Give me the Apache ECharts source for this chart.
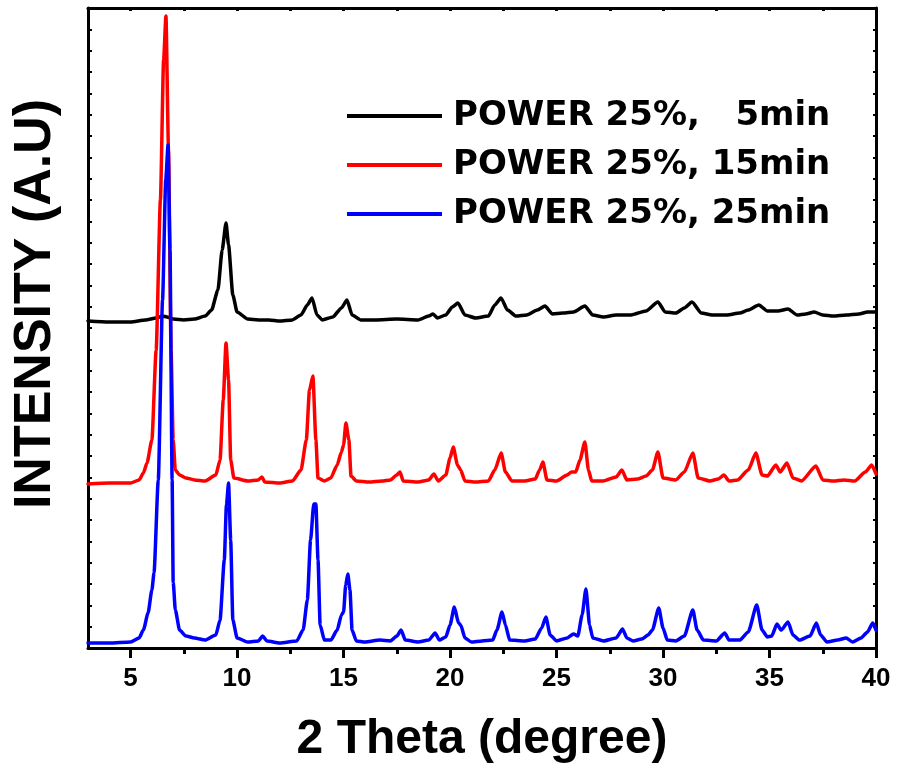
<!DOCTYPE html>
<html>
<head>
<meta charset="utf-8">
<script src="https://cdn.jsdelivr.net/npm/echarts@6/dist/echarts.min.js"></script>
<style>
html,body{margin:0;padding:0;background:#fff;}
#chart{width:897px;height:771px;}
</style>
</head>
<body>
<div id="chart"></div>
<script>
var seriesNames = ['POWER 25%,   5min', 'POWER 25%, 15min', 'POWER 25%, 25min'];
var seriesColors = ['#000000', '#ff0000', '#0000ff'];
var xTickValues = [5, 10, 15, 20, 25, 30, 35, 40];
var xMinorTickValues = [7.5, 12.5, 17.5, 22.5, 27.5, 32.5, 37.5];
var xTopTickValues = [5, 7.5, 10, 12.5, 15, 17.5, 20, 22.5, 25, 27.5, 30, 32.5, 35, 37.5, 40];

var data5min = [[3.0,1533],[4.0,1528],[5.0,1528],[5.7,1538],[6.2,1547],[6.5,1556],[6.7,1552],[7.0,1542],[7.5,1538],[8.0,1542],[8.5,1556],[8.8,1584],[9.1,1678],[9.3,1866],[9.48,1992],[9.6,1889],[9.8,1655],[10.0,1575],[10.5,1542],[11.0,1538],[11.5,1538],[12.0,1533],[12.6,1538],[13.0,1561],[13.3,1608],[13.52,1641],[13.75,1561],[14.0,1538],[14.5,1552],[14.9,1594],[15.16,1631],[15.4,1561],[15.8,1538],[16.5,1538],[17.5,1542],[18.5,1538],[19.0,1556],[19.2,1566],[19.4,1547],[19.8,1561],[20.1,1598],[20.37,1617],[20.7,1561],[21.2,1547],[21.8,1556],[22.1,1608],[22.39,1641],[22.7,1584],[23.1,1556],[23.6,1561],[24.1,1584],[24.46,1603],[24.8,1566],[25.3,1570],[25.8,1575],[26.33,1603],[26.7,1561],[27.2,1552],[27.8,1561],[28.5,1561],[29.2,1580],[29.76,1622],[30.1,1575],[30.6,1570],[31.0,1594],[31.36,1622],[31.8,1570],[32.3,1561],[33.0,1561],[33.6,1570],[34.0,1584],[34.5,1608],[34.9,1580],[35.4,1580],[35.87,1589],[36.3,1561],[36.7,1566],[37.1,1575],[37.5,1561],[38.0,1556],[38.6,1561],[39.2,1566],[39.6,1575],[40.0,1575]];

var data15min = [[3.0,769],[4.0,773],[5.0,773],[5.4,788],[5.6,820],[5.77,867],[6.0,975],[6.2,1397],[6.4,2100],[6.55,2756],[6.66,2963],[6.78,2334],[6.9,1397],[7.0,975],[7.1,834],[7.3,811],[7.6,797],[8.0,788],[8.5,783],[9.0,811],[9.2,881],[9.35,1162],[9.48,1430],[9.6,1256],[9.7,881],[9.85,797],[10.5,783],[11.0,788],[11.17,802],[11.3,778],[12.0,773],[12.6,783],[13.0,834],[13.25,975],[13.4,1209],[13.56,1275],[13.7,975],[13.8,797],[14.1,783],[14.4,797],[14.7,858],[14.9,919],[15.0,952],[15.11,1055],[15.25,975],[15.35,806],[15.6,783],[16.2,778],[16.8,783],[17.2,788],[17.5,811],[17.65,825],[17.8,783],[18.5,778],[19.0,788],[19.24,816],[19.45,783],[19.8,811],[20.0,891],[20.15,942],[20.35,858],[20.5,834],[20.7,783],[21.2,778],[21.8,783],[22.1,834],[22.4,914],[22.6,825],[22.9,783],[23.5,783],[24.0,792],[24.2,834],[24.36,872],[24.55,788],[25.0,783],[25.5,811],[25.7,825],[25.9,825],[26.1,881],[26.33,966],[26.5,834],[26.65,783],[27.2,783],[27.8,802],[28.07,834],[28.3,788],[28.8,792],[29.2,806],[29.5,834],[29.76,919],[30.0,797],[30.6,788],[31.0,825],[31.4,914],[31.65,797],[32.2,783],[32.6,792],[32.86,811],[33.1,783],[33.5,788],[34.0,834],[34.36,914],[34.65,811],[34.9,806],[35.3,858],[35.5,825],[35.82,867],[36.1,797],[36.5,783],[37.18,853],[37.5,788],[38.0,783],[38.5,788],[39.0,783],[39.5,825],[39.8,858],[40.0,816]];

var data25min = [[3.0,23],[4.0,23],[5.0,28],[5.4,47],[5.6,84],[5.82,164],[6.0,272],[6.1,352],[6.3,788],[6.5,1631],[6.65,2194],[6.76,2358],[6.85,1866],[6.95,788],[7.0,309],[7.1,178],[7.3,84],[7.6,56],[8.0,47],[8.5,37],[9.0,61],[9.2,131],[9.4,413],[9.5,670],[9.6,773],[9.7,506],[9.8,131],[10.0,47],[10.5,28],[11.0,33],[11.2,56],[11.4,33],[12.0,23],[12.8,33],[13.1,84],[13.3,225],[13.45,506],[13.6,675],[13.7,675],[13.8,413],[13.9,108],[14.1,37],[14.4,37],[14.7,84],[14.9,155],[15.0,169],[15.1,295],[15.2,347],[15.3,272],[15.4,84],[15.6,33],[16.0,28],[16.7,37],[17.2,33],[17.5,56],[17.7,84],[17.9,37],[18.5,28],[19.0,37],[19.3,70],[19.5,37],[19.8,52],[20.0,108],[20.2,192],[20.4,117],[20.5,108],[20.7,47],[21.0,28],[21.5,33],[22.0,37],[22.2,84],[22.44,169],[22.6,108],[22.8,37],[23.5,33],[24.0,42],[24.3,94],[24.5,145],[24.7,61],[25.0,33],[25.5,47],[25.8,66],[26.0,56],[26.2,155],[26.38,277],[26.55,108],[26.7,47],[27.2,33],[27.8,47],[28.1,89],[28.3,47],[28.6,33],[29.0,42],[29.3,61],[29.5,84],[29.8,188],[30.0,94],[30.2,37],[30.6,33],[31.0,56],[31.4,178],[31.6,84],[31.9,37],[32.5,33],[32.9,70],[33.1,37],[33.6,37],[34.0,75],[34.4,202],[34.65,84],[34.9,52],[35.1,56],[35.35,112],[35.55,84],[35.87,122],[36.1,61],[36.4,37],[36.9,56],[37.2,117],[37.4,61],[37.7,28],[38.2,37],[38.6,47],[38.9,28],[39.3,47],[39.6,75],[39.85,117],[40.0,84]];

var xTitle = '2 Theta (degree)';
var yTitle = 'INTENSITY (A.U)';

var chart = echarts.init(document.getElementById('chart'), null, {renderer: 'canvas'});
var labelFont = 'Liberation Sans, Arial, sans-serif';

var axisLineStyle = {color: '#000', width: 3};

function lineSeries(i, data, z) {
  return {
    name: seriesNames[i], type: 'line', data: data, showSymbol: false,
    smooth: 0.2, smoothMonotone: 'x',
    color: seriesColors[i],
    lineStyle: {width: 3.5, color: seriesColors[i], join: 'round', cap: 'round'},
    xAxisIndex: 0, yAxisIndex: 0, z: z
  };
}

var option = {
  animation: false,
  backgroundColor: '#fff',
  grid: {left: 88, right: 21, top: 8, bottom: 123, containLabel: false},
  legend: {
    orient: 'vertical',
    left: 347,
    top: 99,
    padding: 0,
    icon: 'rect',
    itemWidth: 95,
    itemHeight: 4,
    itemGap: 15,
    data: seriesNames,
    textStyle: {
      fontFamily: 'DejaVu Sans',
      fontWeight: 'bold',
      fontSize: 34,
      lineHeight: 34,
      color: '#000',
      padding: [0, 0, 0, 6]
    }
  },
  xAxis: [
    {
      type: 'value', position: 'bottom', min: 3, max: 40,
      axisLine: {show: true, onZero: false, lineStyle: axisLineStyle},
      axisTick: {show: true, inside: false, length: 10, customValues: xTickValues, lineStyle: {color: '#000', width: 3}},
      axisLabel: {show: true, customValues: xTickValues, margin: 18, fontFamily: labelFont, fontWeight: 'bold', fontSize: 26, color: '#000'},
      splitLine: {show: false},
      name: xTitle, nameLocation: 'middle', nameGap: 68,
      nameTextStyle: {fontFamily: labelFont, fontWeight: 'bold', fontSize: 48, color: '#000'}
    },
    {
      type: 'value', position: 'bottom', min: 3, max: 40,
      axisLine: {show: false, onZero: false},
      axisTick: {show: true, inside: false, length: 6, customValues: xMinorTickValues, lineStyle: {color: '#000', width: 3}},
      axisLabel: {show: false},
      splitLine: {show: false}
    },
    {
      type: 'value', position: 'top', min: 3, max: 40,
      axisLine: {show: true, onZero: false, lineStyle: axisLineStyle},
      axisTick: {show: true, inside: true, length: 3, customValues: xTopTickValues, lineStyle: {color: '#000', width: 3}},
      axisLabel: {show: false},
      splitLine: {show: false}
    }
  ],
  yAxis: [
    {
      type: 'value', position: 'left', min: 0, max: 3000, interval: 100,
      axisLine: {show: true, onZero: false, lineStyle: axisLineStyle},
      axisTick: {show: true, inside: true, length: 4, lineStyle: {color: '#000', width: 2}},
      axisLabel: {show: false},
      splitLine: {show: false}
    },
    {
      type: 'value', position: 'right', min: 0, max: 3000, interval: 100,
      axisLine: {show: true, onZero: false, lineStyle: axisLineStyle},
      axisTick: {show: true, inside: true, length: 3, lineStyle: {color: '#000', width: 2}},
      axisLabel: {show: false},
      splitLine: {show: false}
    }
  ],
  graphic: [
    {
      type: 'text',
      x: 36, y: 304,
      rotation: Math.PI / 2,
      style: {
        text: yTitle,
        fontFamily: labelFont,
        fontWeight: 'bold',
        fontSize: 52,
        fill: '#000',
        textAlign: 'center',
        textVerticalAlign: 'middle'
      }
    }
  ],
  series: [
    lineSeries(0, data5min, 2),
    lineSeries(1, data15min, 3),
    lineSeries(2, data25min, 4)
  ]
};
chart.setOption(option);
</script>
</body>
</html>
